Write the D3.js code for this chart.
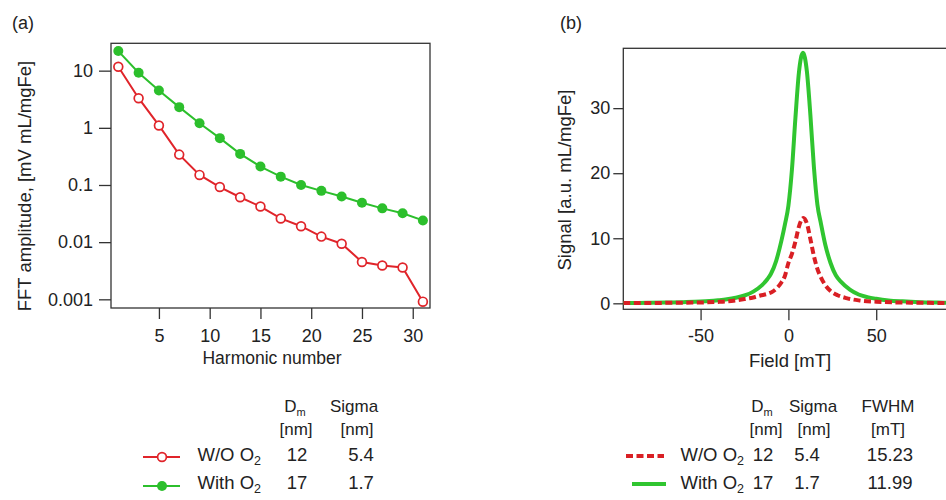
<!DOCTYPE html>
<html>
<head>
<meta charset="utf-8">
<script src="https://cdn.jsdelivr.net/npm/d3@7"></script>
<style>
  body { margin: 0; background: #fff; }
  svg { font-family: "Liberation Sans", Arial, sans-serif; }
  .axis text { font-size: 18px; fill: #222; }
  .axis path { display: none; }
  .axis line { stroke: #333; stroke-width: 1.3; }
</style>
</head>
<body>
<svg id="chart" width="946" height="500"></svg>
<script>
// ---- panel (a): FFT harmonics ----
var harmonics = [1, 3, 5, 7, 9, 11, 13, 15, 17, 19, 21, 23, 25, 27, 29, 31];
var fftWithout = [11.7, 3.3, 1.1, 0.34, 0.15, 0.092, 0.061, 0.042, 0.026, 0.019, 0.0125, 0.0094, 0.0045, 0.0039, 0.0036, 0.00091];
var fftWith = [22, 9.2, 4.5, 2.3, 1.2, 0.66, 0.35, 0.21, 0.14, 0.10, 0.079, 0.063, 0.049, 0.039, 0.032, 0.024];
var logTicks = [0.001, 0.01, 0.1, 1, 10];
var logTickLabels = ["0.001", "0.01", "0.1", "1", "10"];
var harmTicks = [5, 10, 15, 20, 25, 30];

// ---- panel (b): field profile ----
var fieldWith = [-94, -80, -70, -60, -50, -45, -40, -35, -30, -25, -20, -15, -12, -10, -7, -4, -2, 0, 2, 4, 6, 8.3,
                 10.5, 12.5, 14.5, 16.5, 18.5, 21, 24, 27, 30, 35, 40, 45, 50, 57, 65, 75, 85, 95];
var signalWith = [0.05, 0.08, 0.12, 0.18, 0.27, 0.35, 0.47, 0.62, 0.85, 1.2, 1.8, 2.8, 3.7, 4.5, 6.5, 9.6, 12.1, 15, 20.5, 28.5, 35.5, 38.5,
                  35.7, 29, 21, 15.2, 12.3, 9.0, 6.2, 4.3, 3.3, 2.1, 1.35, 0.95, 0.7, 0.45, 0.3, 0.18, 0.12, 0.08];
var fieldWithout = [-94, -80, -70, -60, -50, -40, -35, -30, -25, -20, -16, -12, -9, -6, -4, -2, 0, 2, 4, 6, 8.5,
                    10.5, 12.5, 14.5, 16.5, 18.5, 21, 24, 28, 33, 40, 50, 60, 70, 80, 95];
var signalWithout = [0.03, 0.05, 0.07, 0.1, 0.13, 0.22, 0.3, 0.45, 0.65, 0.9, 1.2, 1.45, 1.8, 2.5, 3.2, 4.2, 6.2, 7.6, 9.5, 11.8, 13.1,
                     12.3, 9.9, 7.3, 5.3, 4.0, 2.8, 1.9, 1.25, 0.8, 0.45, 0.25, 0.15, 0.1, 0.07, 0.04];
var fieldTicks = [-50, 0, 50];
var signalTicks = [0, 10, 20, 30];

// ---- legend tables ----
var seriesNames = ["W/O O", "With O"];
var dmValues = ["12", "17"];
var sigmaValues = ["5.4", "1.7"];
var fwhmValues = ["15.23", "11.99"];

var red = "#e0242a", green = "#2cbf2c";
var redB = "#d91f24", greenB = "#30c530";
var frameColor = "#333";

var svg = d3.select("#chart");

// ===== panel (a) =====
var ax = d3.scaleLinear().domain([0.28, 31.7]).range([111, 430]);
var ay = d3.scaleLog().domain([30.1, 0.000705]).range([43.3, 308]);

svg.append("text").attr("x", 12).attr("y", 29).style("font-size", "18px").attr("fill", "#222").text("(a)");

svg.append("g").attr("class", "axis")
    .attr("transform", "translate(111,0)")
    .call(d3.axisLeft(ay).tickValues(logTicks).tickSize(12).tickPadding(6)
          .tickFormat(function (d, i) { return logTickLabels[i]; }));

svg.append("g").attr("class", "axis")
    .attr("transform", "translate(0,308)")
    .call(d3.axisBottom(ax).tickValues(harmTicks).tickSize(11).tickPadding(10));

svg.append("rect").attr("x", 111).attr("y", 43.3).attr("width", 319).attr("height", 264.7)
    .attr("fill", "none").attr("stroke", frameColor).attr("stroke-width", 1.3);

svg.append("text").attr("transform", "translate(31,186) rotate(-90)")
    .attr("text-anchor", "middle").style("font-size", "18.5px").attr("fill", "#222")
    .text("FFT amplitude, [mV mL/mgFe]");
svg.append("text").attr("x", 272).attr("y", 364)
    .attr("text-anchor", "middle").style("font-size", "17.5px").attr("fill", "#222")
    .text("Harmonic number");

var lineA = function (vals) {
    return d3.line().x(function (d, i) { return ax(harmonics[i]); })
        .y(function (d) { return ay(d); })(vals);
};

svg.append("path").attr("d", lineA(fftWith)).attr("fill", "none").attr("stroke", green).attr("stroke-width", 2);
svg.selectAll(".dotWith").data(fftWith).enter().append("circle")
    .attr("cx", function (d, i) { return ax(harmonics[i]); })
    .attr("cy", function (d) { return ay(d); })
    .attr("r", 5).attr("fill", green);

svg.append("path").attr("d", lineA(fftWithout)).attr("fill", "none").attr("stroke", red).attr("stroke-width", 2);
svg.selectAll(".dotWithout").data(fftWithout).enter().append("circle")
    .attr("cx", function (d, i) { return ax(harmonics[i]); })
    .attr("cy", function (d) { return ay(d); })
    .attr("r", 4.4).attr("fill", "#fff").attr("stroke", red).attr("stroke-width", 1.7);

// ===== panel (b) =====
var bx = d3.scaleLinear().domain([-94, 94]).range([623.3, 953.5]);
var by = d3.scaleLinear().domain([-0.92, 39.2]).range([309.3, 48.3]);

svg.append("text").attr("x", 560).attr("y", 29).style("font-size", "18px").attr("fill", "#222").text("(b)");

svg.append("g").attr("class", "axis")
    .attr("transform", "translate(623.3,0)")
    .call(d3.axisLeft(by).tickValues(signalTicks).tickSize(10).tickPadding(3));

svg.append("g").attr("class", "axis")
    .attr("transform", "translate(0,309.3)")
    .call(d3.axisBottom(bx).tickValues(fieldTicks).tickSize(11).tickPadding(9)
          .tickFormat(function (d) { return d < 0 ? "-" + Math.abs(d) : d; }));

svg.append("rect").attr("x", 623.3).attr("y", 48.3).attr("width", 330.2).attr("height", 261)
    .attr("fill", "none").attr("stroke", frameColor).attr("stroke-width", 1.3);

svg.append("text").attr("transform", "translate(571,180) rotate(-90)")
    .attr("text-anchor", "middle").style("font-size", "18.5px").attr("fill", "#222")
    .text("Signal [a.u. mL/mgFe]");
svg.append("text").attr("x", 790).attr("y", 367)
    .attr("text-anchor", "middle").style("font-size", "18.5px").attr("fill", "#222")
    .text("Field [mT]");

svg.append("clipPath").attr("id", "clipB")
    .append("rect").attr("x", 623.3).attr("y", 40).attr("width", 330).attr("height", 270);

var lineB = function (xs, ys) {
    return d3.line().curve(d3.curveMonotoneX)
        .x(function (d, i) { return bx(xs[i]); })
        .y(function (d) { return by(d); })(ys);
};

svg.append("path").attr("d", lineB(fieldWith, signalWith)).attr("clip-path", "url(#clipB)")
    .attr("fill", "none").attr("stroke", greenB).attr("stroke-width", 4);
svg.append("path").attr("d", lineB(fieldWithout, signalWithout)).attr("clip-path", "url(#clipB)")
    .attr("fill", "none").attr("stroke", redB).attr("stroke-width", 4).attr("stroke-dasharray", "7,3.5");

// ===== legend tables =====
var txt = function (x, y, anchor, size) {
    return svg.append("text").attr("x", x).attr("y", y).attr("text-anchor", anchor)
        .style("font-size", size + "px").attr("fill", "#222");
};
var subText = function (sel, main, sub, subSize) {
    sel.append("tspan").text(main);
    sel.append("tspan").attr("dy", 4).style("font-size", subSize + "px").text(sub);
};

// table (a)
subText(txt(295, 412, "middle", 17), "D", "m", 11);
txt(296, 435, "middle", 17).text("[nm]");
txt(354, 412, "middle", 17).text("Sigma");
txt(357, 435, "middle", 17).text("[nm]");
var rowY = [461, 489];
seriesNames.forEach(function (name, i) {
    subText(txt(261, rowY[i], "end", 18.5), name, "2", 12.5);
    txt(297, rowY[i], "middle", 18.5).text(dmValues[i]);
    txt(361, rowY[i], "middle", 18.5).text(sigmaValues[i]);
});
svg.append("line").attr("x1", 143).attr("x2", 180).attr("y1", 457).attr("y2", 457)
    .attr("stroke", red).attr("stroke-width", 2);
svg.append("circle").attr("cx", 162).attr("cy", 457).attr("r", 4.4)
    .attr("fill", "#fff").attr("stroke", red).attr("stroke-width", 1.7);
svg.append("line").attr("x1", 143).attr("x2", 180).attr("y1", 486).attr("y2", 486)
    .attr("stroke", green).attr("stroke-width", 2);
svg.append("circle").attr("cx", 162).attr("cy", 486).attr("r", 5).attr("fill", green);

// table (b)
subText(txt(762, 412, "middle", 17), "D", "m", 11);
txt(766, 435, "middle", 17).text("[nm]");
txt(813, 412, "middle", 17).text("Sigma");
txt(814, 435, "middle", 17).text("[nm]");
txt(888, 412, "middle", 17).text("FWHM");
txt(888, 435, "middle", 17).text("[mT]");
seriesNames.forEach(function (name, i) {
    subText(txt(744, rowY[i], "end", 18.5), name, "2", 12.5);
    txt(763, rowY[i], "middle", 18.5).text(dmValues[i]);
    txt(807, rowY[i], "middle", 18.5).text(sigmaValues[i]);
    txt(890, rowY[i], "middle", 18.5).text(fwhmValues[i]);
});
svg.append("line").attr("x1", 626).attr("x2", 664).attr("y1", 456).attr("y2", 456)
    .attr("stroke", redB).attr("stroke-width", 4).attr("stroke-dasharray", "7,3.5");
svg.append("line").attr("x1", 632).attr("x2", 666).attr("y1", 484).attr("y2", 484)
    .attr("stroke", greenB).attr("stroke-width", 4);
</script>
</body>
</html>
